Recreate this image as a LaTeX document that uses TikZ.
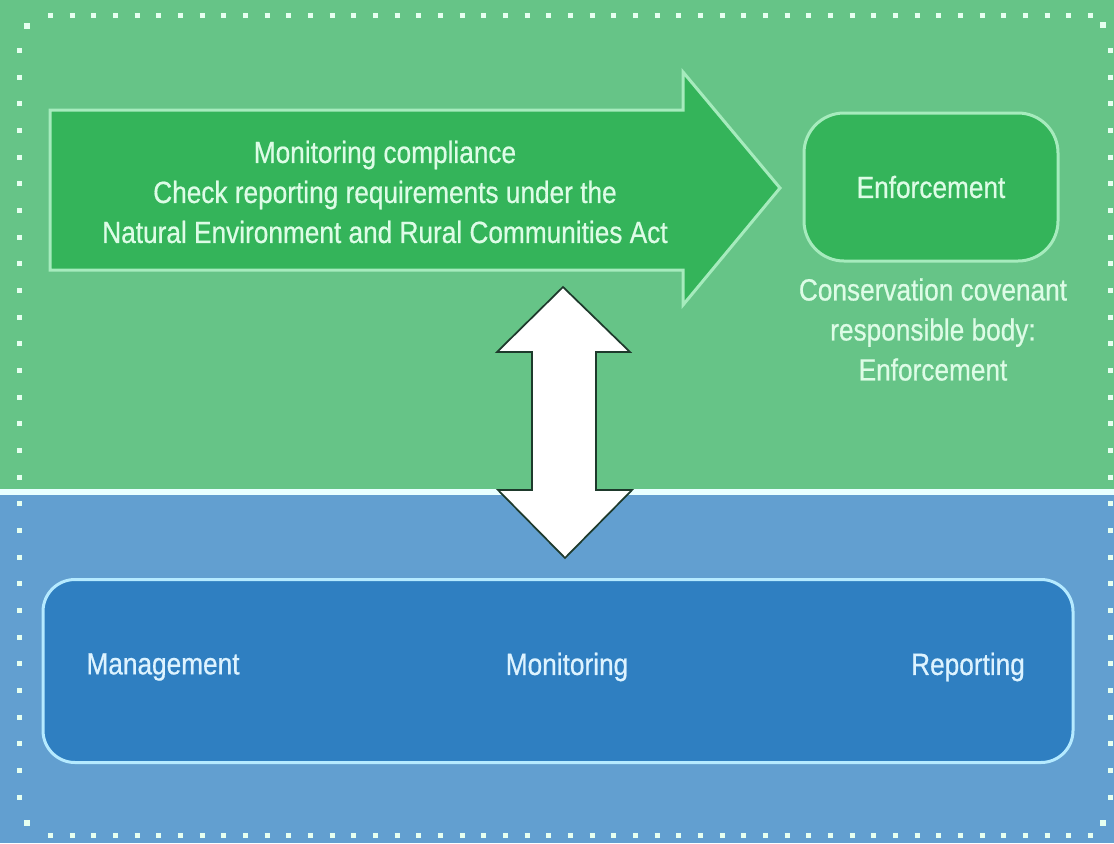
\documentclass[tikz,border=0pt]{standalone}
\usepackage{fontspec}
\setmainfont[FakeStretch=0.855, FakeBold=0.6]{Liberation Sans}
\definecolor{bggreen}{HTML}{66C487}
\definecolor{darkgreen}{HTML}{34B45A}
\definecolor{bgblue}{HTML}{629FD0}
\definecolor{darkblue}{HTML}{2F7FC1}
\definecolor{edgegreen}{HTML}{A6EBBD}
\definecolor{edgeblue}{HTML}{B5EAFF}
\definecolor{txtgreen}{HTML}{DDFCE6}
\definecolor{txtblue}{HTML}{DDF3FF}
\definecolor{dotcol}{HTML}{E6FFF0}
\definecolor{divider}{HTML}{E8FFFF}
\definecolor{arrowedge}{HTML}{1E3A2C}
\tikzset{
  txt/.style={font=\fontsize{23pt}{30pt}\selectfont, align=center, inner sep=0pt},
  gtxt/.style={txt, text=txtgreen},
  btxt/.style={txt, text=txtblue},
  dotline/.style={draw=dotcol, line width=3.75pt, line cap=butt},
}
\begin{document}
\begin{tikzpicture}[x=0.75pt,y=-0.75pt]
\useasboundingbox (0,0) rectangle (1114,843);
% backgrounds
\fill[bgblue] (0,490) rectangle (1114,843);
\fill[bggreen] (0,0) rectangle (1114,490);
\fill[divider] (0,489) rectangle (1114,495);
% dotted frame
\draw[dotline, dash pattern=on 3.75pt off 12.5pt] (48,15) -- (1095,15);
\draw[dotline, dash pattern=on 3.75pt off 12.5pt] (48,835) -- (1095,835);
\draw[dotline, dash pattern=on 3.75pt off 16.25pt] (19,48) -- (19,820);
\draw[dotline, dash pattern=on 3.75pt off 16.25pt] (1110,48) -- (1110,820);
\fill[dotcol] (24,23) rectangle (30,29);
\fill[dotcol] (1100,22) rectangle (1106,28);
\fill[dotcol] (1100,820) rectangle (1106,826);
\fill[dotcol] (24,820) rectangle (30,826);
% main arrow
\draw[fill=darkgreen, draw=edgegreen, line width=2.25pt, line join=miter]
  (50,110) -- (683,110) -- (683,72) -- (780,188) -- (683,305) -- (683,270) -- (50,270) -- cycle;
\node[gtxt] (mon) at (385,192) {Monitoring compliance\\Check reporting requirements under the\\Natural Environment and Rural Communities Act};
% enforcement box
\node[draw=edgegreen, fill=darkgreen, line width=2.25pt, rounded corners=30pt,
      minimum width=190.5pt, minimum height=111pt, gtxt] (enf) at (931,187) {Enforcement};
\node[gtxt, anchor=north] (lab) at (933,278) {Conservation covenant\\responsible body:\\Enforcement};
% double arrow
\draw[fill=white, draw=arrowedge, line width=1.3pt, line join=miter]
  (563,287) -- (630,352) -- (596,352) -- (596,490) -- (632,490) -- (565,558)
  -- (498,490) -- (532,490) -- (532,352) -- (497,352) -- cycle;
% bottom box
\node[draw=edgeblue, fill=darkblue, line width=2.25pt, rounded corners=24pt,
      minimum width=772.5pt, minimum height=137.25pt] (box) at (558,671) {};
\node[btxt] (m1) at (163,667) {Management};
\node[btxt] (m2) at (567,667) {Monitoring};
\node[btxt] (m3) at (968,667) {Reporting};
\end{tikzpicture}
\end{document}
